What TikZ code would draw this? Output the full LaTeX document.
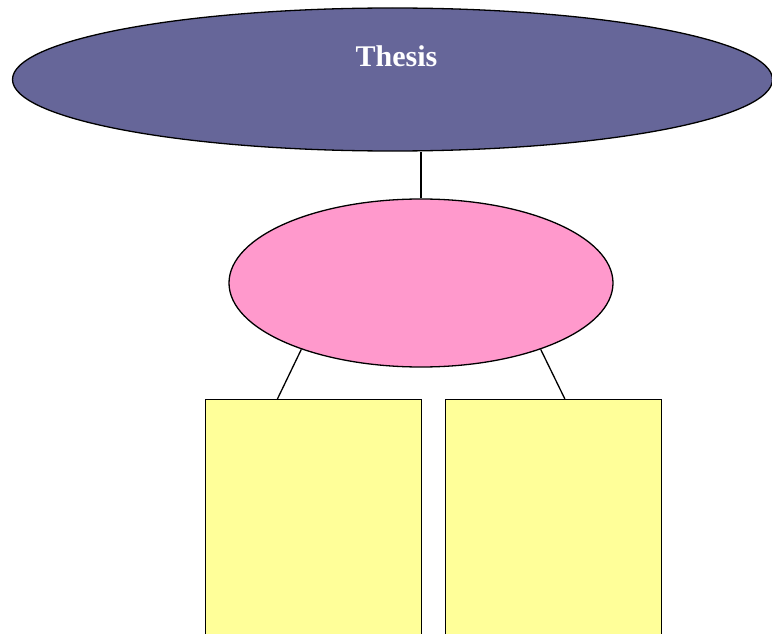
\documentclass[tikz,border=0pt]{standalone}
\usepackage{fontspec}
\setmainfont{Liberation Serif}
\usetikzlibrary{shapes.geometric,calc}
\definecolor{thesisblue}{RGB}{102,102,153}
\definecolor{pinkfill}{RGB}{255,153,204}
\definecolor{yellowfill}{RGB}{255,255,153}
\begin{document}
\begin{tikzpicture}[x=1pt,y=-1pt,
  edge/.style={draw=black,line width=1.3pt},
  bigell/.style={ellipse,draw=black,line width=1.3pt,fill=thesisblue,inner sep=0pt},
  midell/.style={ellipse,draw=black,line width=1.3pt,fill=pinkfill,inner sep=0pt},
  leafbox/.style={rectangle,draw=black,line width=1.3pt,fill=yellowfill,inner sep=0pt,anchor=north west}]
\useasboundingbox (0,0) rectangle (772,634);
\clip (0,0) rectangle (772,634);
\node[bigell,minimum width=760pt,minimum height=143pt] (thesis) at (392.5,79.5) {};
\node[text=white,font=\fontsize{30}{36}\selectfont\bfseries] (thesislabel) at (396.5,56) {Thesis};
\node[midell,minimum width=384pt,minimum height=168pt] (mid) at (421,283) {};
\node[leafbox,minimum width=215.5pt,minimum height=260pt] (leftbox) at (205,399) {};
\node[leafbox,minimum width=215.5pt,minimum height=260pt] (rightbox) at (445,399) {};
\draw[edge] (mid.north) -- (mid.north |- thesis.south);
\draw[edge] (mid.209.5) -- ($(leftbox.north west)!0.334!(leftbox.north east)$);
\draw[edge] (mid.331.5) -- ($(rightbox.north west)!0.553!(rightbox.north east)$);
\end{tikzpicture}
\end{document}
